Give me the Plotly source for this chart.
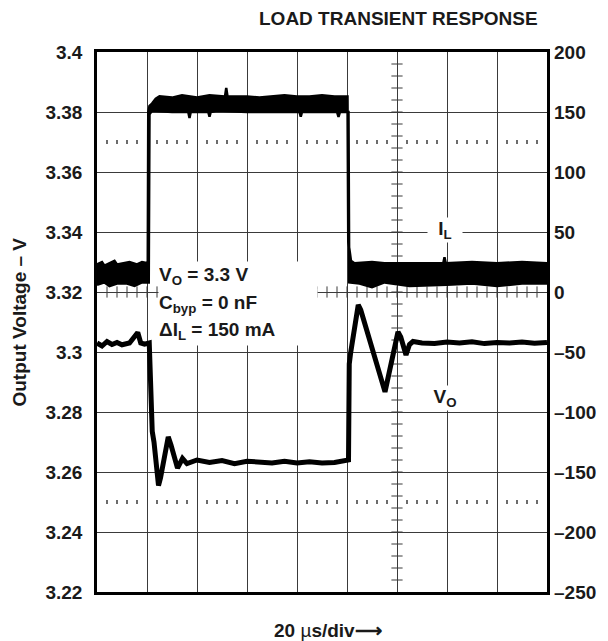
import plotly.graph_objects as go

# ---------------- data ----------------
# time in microseconds (20 us/div, 9 divisions)
v_t = [0, 2, 4, 6, 8, 10, 13, 16.3, 17.5, 19, 20.9, 21.5, 22.1, 22.8, 24.6, 25.4,
       28.5, 29.6, 32.2, 34.2, 36, 40, 45, 50, 55, 60, 65, 70, 75, 80, 85, 90, 95, 100.6,
       100.9, 101.5, 104.5, 105.5, 115.2, 120.4, 121.5, 123.6, 125, 126.4, 130, 135,
       140, 145, 150, 155, 160, 165, 170, 175, 180]
v_out = [3.3030, 3.3020, 3.3035, 3.3025, 3.3032, 3.3024, 3.3030, 3.3065, 3.3030, 3.3026,
         3.3030, 3.2900, 3.2735, 3.2700, 3.2555, 3.2580,
         3.2717, 3.2690, 3.2613, 3.2645, 3.2628, 3.2640, 3.2632, 3.2638, 3.2628, 3.2636,
         3.2631, 3.2630, 3.2636, 3.2630, 3.2634, 3.2630, 3.2632, 3.2640,
         3.2960, 3.3000, 3.3157, 3.3140, 3.2867, 3.3067, 3.3050, 3.2990, 3.3025, 3.3035,
         3.3030, 3.3028, 3.3033, 3.3030, 3.3034, 3.3028, 3.3032, 3.3030, 3.3033, 3.3029, 3.3032]

# load current envelope (mA): upper and lower edges of the noisy band
il_up_t = [0, 2, 3, 5, 7, 8, 11, 13, 16, 18, 20.3, 20.5, 21.0, 22, 23.5, 25, 30, 34, 40, 45,
           51.2, 51.7, 52.2, 60, 65, 70, 75, 80, 85, 90, 95, 100.2, 100.5, 101.0, 101.6,
           103, 110, 115, 125, 138.5, 139, 139.5, 150, 160, 170, 180]
il_up = [23, 25, 22, 24, 26, 23, 24, 25, 23, 25, 24, 150, 155, 157, 161, 163, 162, 164, 162,
         164, 163, 170, 163, 163, 162, 163, 164, 163, 163, 164, 163, 163, 42, 35, 26,
         24, 25, 24, 24, 24, 29, 24, 25, 24, 25, 24]
il_lo_t = [0, 3, 5, 8, 12, 15, 18, 20.7, 21.0, 22, 30, 36.5, 37, 37.5, 44.5, 45, 45.5, 48,
           60, 70, 81, 81.5, 82, 90, 96, 96.6, 97.2, 100.6, 100.9, 105, 110, 115, 125,
           140, 150, 160, 170, 180]
il_lo = [6, 8, 5, 7, 7, 5, 8, 8, 148, 151, 150, 150, 145, 150, 150, 146, 150, 151,
         150, 150, 150, 146, 150, 150, 150, 146, 150, 150, 8, 7, 4, 8, 5,
         6, 7, 5, 7, 7]

v_ticks = [3.22, 3.24, 3.26, 3.28, 3.30, 3.32, 3.34, 3.36, 3.38, 3.40]
v_tick_text = ["3.22", "3.24", "3.26", "3.28", "3.3", "3.32", "3.34", "3.36", "3.38", "3.4"]
i_ticks = [-250, -200, -150, -100, -50, 0, 50, 100, 150, 200]
i_tick_text = ["–250", "–200", "–150", "–100", "–50", "0", "50", "100", "150", "200"]

T_MAX = 180
V_MIN, V_MAX = 3.22, 3.40
I_MIN, I_MAX = -250, 200

FONT = "Liberation Sans, Arial, sans-serif"
GRID = "#3a3a3a"

fig = go.Figure()

# ---------------- reticule decorations ----------------
# minor ticks on the vertical tick line (t = 120)
vt_y = [round(V_MIN + 0.004 * k, 4) for k in range(1, 45)]
fig.add_trace(go.Scatter(x=[120] * len(vt_y), y=vt_y, mode="markers", hoverinfo="skip",
                         marker=dict(symbol="line-ew", size=8, line=dict(width=1, color=GRID)),
                         showlegend=False))
# minor ticks on the horizontal tick line (V = 3.32)
ht_x = [4 * k for k in range(1, 45)]
fig.add_trace(go.Scatter(x=ht_x, y=[3.32] * len(ht_x), mode="markers", hoverinfo="skip",
                         marker=dict(symbol="line-ns", size=8, line=dict(width=1, color=GRID)),
                         showlegend=False))
# dotted rows
dot_x = [4 * k for k in range(1, 45) if k % 5 != 0]
for lvl in (3.37, 3.25):
    fig.add_trace(go.Scatter(x=dot_x, y=[lvl] * len(dot_x), mode="markers", hoverinfo="skip",
                             marker=dict(symbol="line-ns", size=3, line=dict(width=1.5, color=GRID)),
                             showlegend=False))

# ---------------- traces ----------------
poly_x = il_up_t + il_lo_t[::-1]
poly_y = il_up + il_lo[::-1]
fig.add_trace(go.Scatter(x=poly_x, y=poly_y, yaxis="y2", mode="lines", fill="toself",
                         fillcolor="black", line=dict(color="black", width=2.5),
                         showlegend=False, name="I_L"))
fig.add_trace(go.Scatter(x=v_t, y=v_out, mode="lines", line=dict(color="black", width=5),
                         showlegend=False, name="V_O"))

# ---------------- layout ----------------
fig.update_layout(
    width=608, height=641,
    margin=dict(l=97, r=58, t=52, b=49),
    paper_bgcolor="white", plot_bgcolor="white",
    font=dict(family=FONT, size=19, color="#1a1a1a"),
    xaxis=dict(range=[0, T_MAX], dtick=20, tick0=0, showticklabels=False, ticks="",
               showgrid=True, gridcolor=GRID, gridwidth=1, zeroline=False,
               showline=True, linecolor="black", linewidth=2.5, mirror=True),
    yaxis=dict(range=[V_MIN, V_MAX], tickvals=v_ticks, ticktext=v_tick_text, ticks="",
               showgrid=True, gridcolor=GRID, gridwidth=1, zeroline=False,
               showline=True, linecolor="black", linewidth=2.5, mirror=True,
               tickfont=dict(family=FONT, size=19, color="#1a1a1a", weight="bold"),
               ticklabelstandoff=8),
    yaxis2=dict(range=[I_MIN, I_MAX], tickvals=i_ticks, ticktext=i_tick_text, ticks="",
                overlaying="y", side="right", showgrid=False, zeroline=False,
                showline=False,
                tickfont=dict(family=FONT, size=19, color="#1a1a1a", weight="bold"),
                ticklabelstandoff=6),
)

ann_font = dict(family=FONT, size=19, color="#1a1a1a", weight="bold")
annotations = [
    dict(text="LOAD TRANSIENT RESPONSE", xref="paper", yref="paper", x=(401 - 97) / 453,
         y=1 + (52 - 18) / 540, xanchor="center", yanchor="middle", showarrow=False, font=ann_font),
    dict(text="Output Voltage – V", xref="paper", yref="paper", x=(18 - 97) / 453, y=0.5,
         xanchor="center", yanchor="middle", textangle=-90, showarrow=False, font=ann_font),
    dict(text="20 <span style='font-weight:normal'>µ</span>s/div⟶", xref="paper", yref="paper",
         x=(330 - 97) / 453, y=-(630 - 592) / 540, xanchor="center", yanchor="middle",
         showarrow=False, font=ann_font),
    dict(text="I<sub>L</sub>", x=139, y=52, yref="y2", showarrow=False, font=ann_font,
         bgcolor="white", width=34, height=24, borderpad=0),
    dict(text="V<sub>O</sub>", x=139, y=3.2847, showarrow=False, font=ann_font,
         bgcolor="white", width=34, height=24, borderpad=0),
]
box_lines = ["V<sub>O</sub> = 3.3 V", "C<sub>byp</sub> = 0 nF", "ΔI<sub>L</sub> = 150 mA"]
box_y = [3.3253, 3.3161, 3.3069]
for txt, yy in zip(box_lines, box_y):
    annotations.append(dict(text=txt, x=24.2, y=yy, xanchor="left", yanchor="middle",
                            showarrow=False, font=ann_font, bgcolor="white", align="left",
                            width=158, height=27.6, borderpad=0))
fig.update_layout(annotations=annotations)

fig.write_html("out.html", config={"displayModeBar": False},
               post_script="document.body.style.margin='0';document.body.style.padding='0';")
